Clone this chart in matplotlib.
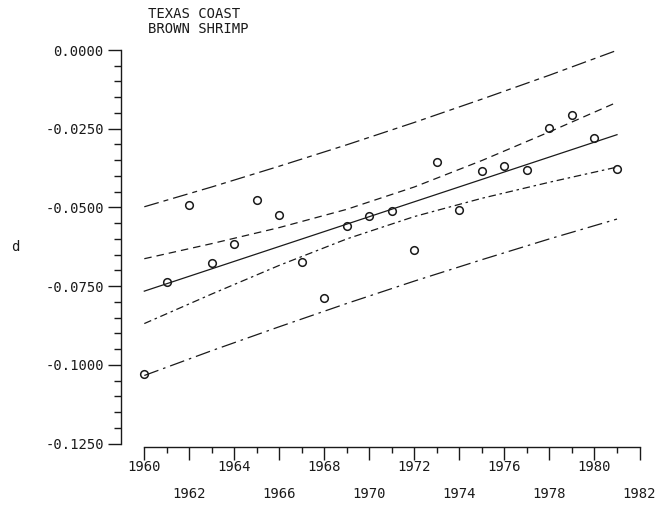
import matplotlib
matplotlib.use("Agg")
import matplotlib.pyplot as plt
from matplotlib.ticker import FixedLocator

# Data: yearly values of d
years = [1960, 1961, 1962, 1963, 1964, 1965, 1966, 1967, 1968, 1969, 1970,
         1971, 1972, 1973, 1974, 1975, 1976, 1977, 1978, 1979, 1980, 1981]
d_values = [-0.1030, -0.0736, -0.0493, -0.0676, -0.0617, -0.0477, -0.0523,
            -0.0675, -0.0787, -0.0560, -0.0527, -0.0511, -0.0636, -0.0357,
            -0.0507, -0.0384, -0.0369, -0.0382, -0.0248, -0.0207, -0.0278,
            -0.0377]

# Fitted line and bands, read at a few years
band_years = [1960, 1963, 1966, 1969, 1972, 1975, 1978, 1981]
fit_line = [-0.0766, -0.0695, -0.0624, -0.0553, -0.0482, -0.0411, -0.0340, -0.0269]
ci_upper = [-0.0663, -0.0615, -0.0564, -0.0506, -0.0435, -0.0351, -0.0260, -0.0166]
ci_lower = [-0.0869, -0.0775, -0.0684, -0.0600, -0.0529, -0.0471, -0.0420, -0.0372]
pi_upper = [-0.0498, -0.0435, -0.0369, -0.0301, -0.0230, -0.0156, -0.0080, -0.0001]
pi_lower = [-0.1034, -0.0955, -0.0879, -0.0805, -0.0734, -0.0666, -0.0600, -0.0537]

y_ticks = [0.0, -0.025, -0.05, -0.075, -0.1, -0.125]
x_ticks = list(range(1960, 1983, 2))

font = "DejaVu Sans Mono"
fsize = 10
ink = "#1a1a1a"

fig = plt.figure(figsize=(6.7, 5.07), dpi=100)
ax = fig.add_axes([0.1806, 0.11834, 0.7739, 0.78304])

# lines and bands
ax.plot(band_years, fit_line, color=ink, lw=0.9, linestyle="-")
ax.plot(band_years, ci_upper, color=ink, lw=0.9, linestyle=(0, (6, 4)))
ax.plot(band_years, ci_lower, color=ink, lw=0.9, linestyle=(0, (6, 3, 2, 3)))
ax.plot(band_years, pi_upper, color=ink, lw=0.9, linestyle=(0, (12, 4, 4, 4)))
ax.plot(band_years, pi_lower, color=ink, lw=0.9, linestyle=(0, (12, 4, 2, 4)))

# observed points
ax.plot(years, d_values, linestyle="none", marker="o", ms=5.5, mfc="none",
        mec=ink, mew=1.1)

ax.set_xlim(1958.965, 1982)
ax.set_ylim(-0.12611, 0.0)

# detached axes like the plotter output
for side in ["top", "right"]:
    ax.spines[side].set_visible(False)
ax.spines["left"].set_bounds(-0.125, 0.0)
ax.spines["bottom"].set_bounds(1960, 1982)
ax.spines["left"].set_linewidth(1.0)
ax.spines["bottom"].set_linewidth(1.0)
ax.spines["left"].set_color(ink)
ax.spines["bottom"].set_color(ink)

# y axis ticks
ax.yaxis.set_major_locator(FixedLocator(y_ticks))
ax.yaxis.set_minor_locator(FixedLocator([-0.005 * i for i in range(26) if i % 5 != 0]))
ax.set_yticklabels([f"{v:.4f}" if v != 0 else "0.0000" for v in y_ticks],
                   family=font, fontsize=fsize)
ax.tick_params(axis="y", which="major", direction="out", length=9.4, width=1.0,
               pad=3, colors=ink)
ax.tick_params(axis="y", which="minor", direction="out", length=5, width=1.0,
               colors=ink)

# x axis ticks, labels staggered on two rows
ax.xaxis.set_major_locator(FixedLocator(x_ticks))
ax.xaxis.set_minor_locator(FixedLocator(list(range(1961, 1982, 2))))
ax.set_xticklabels([str(y) for y in x_ticks], family=font, fontsize=fsize)
ax.tick_params(axis="x", which="major", direction="out", length=9.4, width=1.0,
               colors=ink)
ax.tick_params(axis="x", which="minor", direction="out", length=4.5, width=1.0,
               colors=ink)
for tick, yr in zip(ax.xaxis.get_major_ticks(), x_ticks):
    tick.set_pad(0 if yr % 4 == 0 else 19.5)

# title block and axis label
fig.text(148 / 670, 1 - 7 / 507, "TEXAS COAST\nBROWN SHRIMP", ha="left", va="top",
         family=font, fontsize=fsize, color=ink, linespacing=1.05)
fig.text(15 / 670, 1 - 247 / 507, "d", ha="center", va="center",
         family=font, fontsize=fsize, color=ink)

fig.savefig("out.png", dpi=100)
